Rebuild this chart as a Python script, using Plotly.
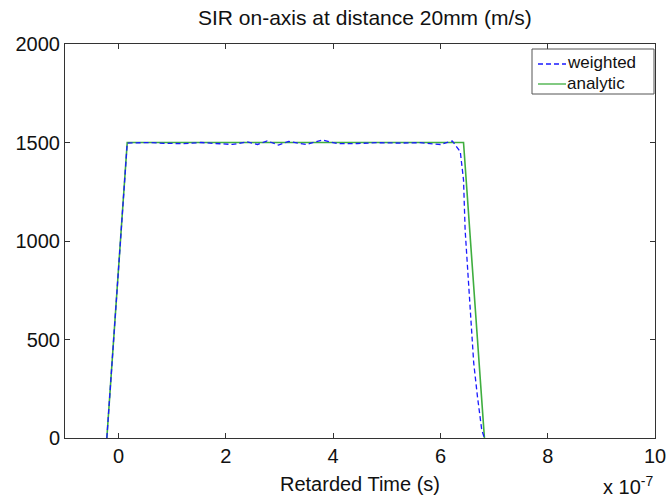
import plotly.graph_objects as go

# time in units of 1e-7 s
t_analytic = [-0.22, 0.16, 6.43, 6.82]
v_analytic = [0, 1500, 1500, 0]

t_weighted = [-0.22, 0.16, 0.60, 0.84, 1.21, 1.53, 1.81, 2.12, 2.40, 2.59, 2.77, 2.98,
              3.17, 3.35, 3.50, 3.80, 4.08, 4.45, 4.82, 5.25, 5.62, 6.00, 6.22, 6.37,
              6.43, 6.46, 6.52, 6.59, 6.62, 6.69, 6.77, 6.82]
v_weighted = [0, 1497, 1500, 1496, 1494, 1500, 1495, 1490, 1503, 1490, 1508, 1487,
              1505, 1496, 1490, 1513, 1494, 1495, 1499, 1497, 1499, 1490, 1508, 1453,
              1310, 1056, 802, 548, 381, 210, 41, 0]

x_ticks = [0, 2, 4, 6, 8, 10]
y_ticks = [0, 500, 1000, 1500, 2000]

FONT = "Liberation Sans, Arial, sans-serif"
BLUE = "#1a1aff"
GREEN = "#3fae3f"

fig = go.Figure()
fig.add_trace(go.Scatter(x=t_analytic, y=v_analytic, mode="lines", name="analytic",
                         line=dict(color=GREEN, width=1.6), showlegend=False))
fig.add_trace(go.Scatter(x=t_weighted, y=v_weighted, mode="lines", name="weighted",
                         line=dict(color=BLUE, width=1.3, dash="5px,3px"), showlegend=False))

axis_common = dict(showgrid=False, zeroline=False, showline=True, linecolor="#333333",
                   linewidth=1, mirror="ticks", ticks="inside", ticklen=5, automargin=False,
                   tickcolor="#333333", tickfont=dict(family=FONT, size=20, color="#111111"))

fig.update_xaxes(range=[-1, 10], tickvals=x_ticks, ticktext=[str(v) for v in x_ticks],
                 title=dict(text="Retarded Time (s)", font=dict(family=FONT, size=20, color="#111111"),
                            standoff=10),
                 **axis_common)
fig.update_yaxes(range=[0, 2000], tickvals=y_ticks, ticktext=[str(v) for v in y_ticks],
                 **axis_common)

# manual MATLAB-style legend, positioned in paper coords of the plot area (65..655 x 44..438 px)
def px(xp):
    return (xp - 65) / 590.0


def py(yp):
    return (438 - yp) / 394.0


legend_entries = [("weighted", BLUE, "5px,3px", 64), ("analytic", GREEN, "solid", 84)]
shapes = [dict(type="rect", xref="paper", yref="paper", x0=px(532), x1=px(654), y0=py(94), y1=py(49),
               line=dict(color="#555555", width=1), fillcolor="white", layer="above")]
annotations = []
for label, color, dash, yy in legend_entries:
    shapes.append(dict(type="line", xref="paper", yref="paper", x0=px(538), x1=px(566), y0=py(yy), y1=py(yy),
                       line=dict(color=color, width=1.3, dash=dash), layer="above"))
    annotations.append(dict(text=label, x=px(566), xref="paper", xanchor="left", y=py(yy - 1), yref="paper",
                            yanchor="middle", showarrow=False, borderpad=0,
                            font=dict(family=FONT, size=17, color="#111111")))

annotations.append(dict(text="x 10<sup>-7</sup>", x=1.0, xref="paper", xanchor="right",
                        y=-0.085, yref="paper", yanchor="top", showarrow=False,
                        font=dict(family=FONT, size=20, color="#111111")))

# chart title
annotations.append(dict(text="SIR on-axis at distance 20mm (m/s)", x=px(365), xref="paper", xanchor="center",
                        y=py(18), yref="paper", yanchor="middle", showarrow=False,
                        font=dict(family=FONT, size=21, color="#111111")))

fig.update_layout(
    width=669, height=500,
    margin=dict(l=65, r=14, t=44, b=62),
    paper_bgcolor="white", plot_bgcolor="white",
    showlegend=False,
    shapes=shapes,
    annotations=annotations,
)

fig.write_html("out.html")
